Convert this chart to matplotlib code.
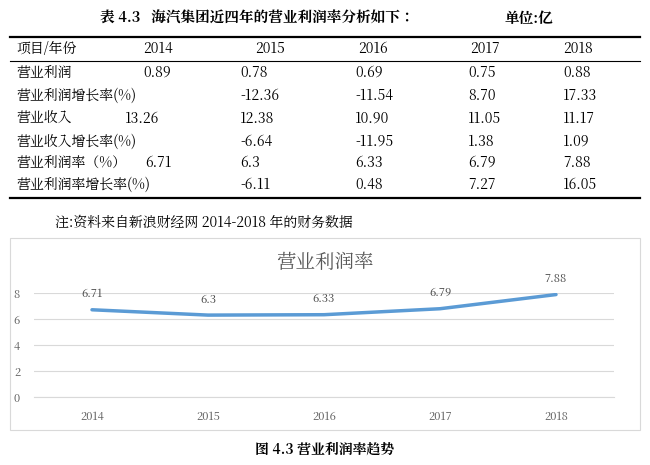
import matplotlib
matplotlib.use("Agg")
import matplotlib.pyplot as plt
from matplotlib import font_manager as fm
from matplotlib.lines import Line2D
from matplotlib.patches import Rectangle

cjk_name = None
for f in fm.findSystemFonts():
    if "CJK" in f or "cjk" in f.lower():
        try:
            fm.fontManager.addfont(f)
            n = fm.FontProperties(fname=f).get_name()
            if cjk_name is None or "SC" in n:
                cjk_name = n
        except Exception:
            pass
plt.rcParams["font.family"] = [cjk_name or "Noto Sans CJK SC", "Noto Sans CJK SC", "DejaVu Sans"]

years = ["2014", "2015", "2016", "2017", "2018"]
row_names = ["营业利润", "营业利润增长率(%)", "营业收入", "营业收入增长率(%)", "营业利润率（%）", "营业利润率增长率(%)"]
profit = ["0.89", "0.78", "0.69", "0.75", "0.88"]
profit_growth = ["", "-12.36", "-11.54", "8.70", "17.33"]
revenue = ["13.26", "12.38", "10.90", "11.05", "11.17"]
revenue_growth = ["", "-6.64", "-11.95", "1.38", "1.09"]
margin_txt = ["6.71", "6.3", "6.33", "6.79", "7.88"]
margin_growth = ["", "-6.11", "0.48", "7.27", "16.05"]
margin = [6.71, 6.3, 6.33, 6.79, 7.88]

W, H = 650, 465
fig = plt.figure(figsize=(W/100, H/100), dpi=100)

def P(x, y):
    return x / W, 1 - y / H

def txt(x, y, s, **kw):
    fig.text(*P(x, y), s, va="center", **kw)

def hline(y, x0, x1, lw):
    fig.add_artist(Line2D([x0/W, x1/W], [1-y/H, 1-y/H], color="black", lw=lw))

txt(100, 19, "表 4.3   海汽集团近四年的营业利润率分析如下：", fontsize=10.5, fontweight="bold")
txt(505, 19, "单位:亿", fontsize=10.5, fontweight="bold")

hline(37, 10, 640, 1.6)
hline(61, 10, 640, 0.8)
hline(198, 10, 640, 1.6)

header_x = [143, 255, 358, 470, 563]
txt(16, 49, "项目/年份", fontsize=10)
for x, yr in zip(header_x, years):
    txt(x, 49, yr, fontsize=10)

rows = [profit, profit_growth, revenue, revenue_growth, margin_txt, margin_growth]
row_y = [73, 96, 119, 142, 163, 185]
first_x = [143, 143, 125, 143, 145, 143]
col_x = [240, 355, 468, 563]
for name, vals, y, fx in zip(row_names, rows, row_y, first_x):
    txt(16, y, name, fontsize=10)
    if vals[0]:
        txt(fx, y, vals[0], fontsize=10)
    for x, v in zip(col_x, vals[1:]):
        txt(x, y, v, fontsize=10)

txt(55, 222, "注:资料来自新浪财经网 2014-2018 年的财务数据", fontsize=10)

fig.add_artist(Rectangle((10/W, 1-430/H), 630/W, 192/H, fill=False, ec="#d9d9d9", lw=0.8))
txt(325, 263, "营业利润率", fontsize=14, color="#595959", ha="center")

ax = fig.add_axes([34/W, 1-397/H, 580/W, 104/H])
x = list(range(len(years)))
ax.plot(x, margin, color="#5B9BD5", lw=2.5, solid_capstyle="round")
for xi, v, t in zip(x, margin, margin_txt):
    ax.annotate(t, (xi, v), xytext=(0, 9), textcoords="offset points", ha="center",
                fontsize=8, color="#404040")
ax.set_xlim(-0.5, 4.5)
ax.set_ylim(0, 8)
ax.set_yticks([0, 2, 4, 6, 8])
ax.set_xticks(x, years)
ax.grid(axis="y", color="#d9d9d9", lw=0.8)
ax.set_axisbelow(True)
for s in ["top", "right", "left"]:
    ax.spines[s].set_visible(False)
ax.spines["bottom"].set_color("#d9d9d9")
ax.tick_params(length=0, labelsize=8, colors="#595959", pad=10)
ax.patch.set_alpha(0)

txt(325, 450, "图 4.3 营业利润率趋势", fontsize=10, fontweight="bold", ha="center")

fig.savefig("out.png", dpi=100)
